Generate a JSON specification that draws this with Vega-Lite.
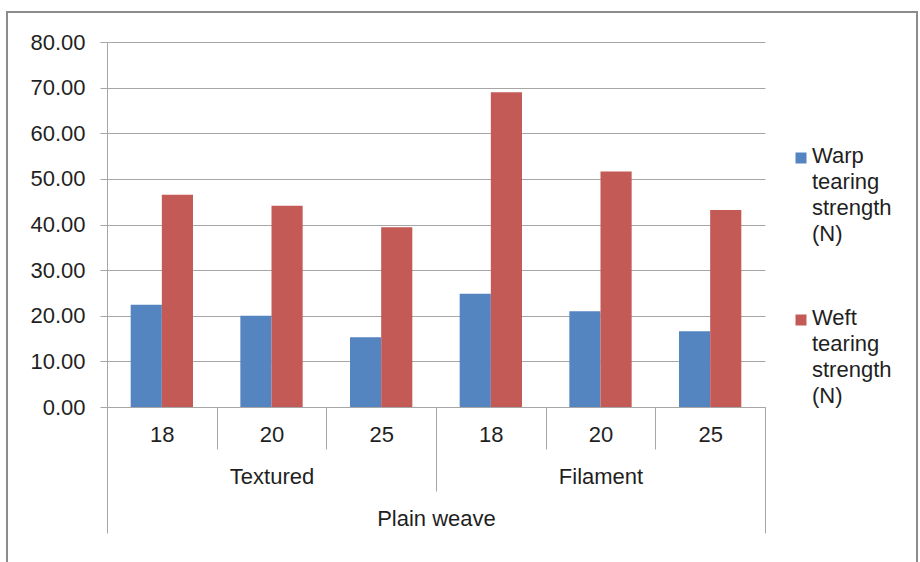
{
  "$schema": "https://vega.github.io/schema/vega-lite/v6.json",
  "autosize": {"type": "none"},
  "padding": {"left": 7, "top": 12, "right": 3, "bottom": -6},
  "width": 910,
  "height": 556,
  "background": "white",
  "config": {
    "view": {"stroke": "#8c8c8c", "strokeWidth": 2},
    "font": "Liberation Sans",
    "axis": {
      "labelFont": "Liberation Sans",
      "labelFontSize": 22,
      "labelColor": "#1f1f1f",
      "domainColor": "#a6a6a6",
      "tickColor": "#a6a6a6",
      "gridColor": "#a6a6a6",
      "domainWidth": 1,
      "tickWidth": 1,
      "gridWidth": 1
    },
    "style": {"guide-label": {"lineHeight": 26}}
  },
  "datasets": {
    "tearing": [
      {"weave": "Plain weave", "yarn": "Textured", "size": "18", "key": "Textured 18", "series": "Warp tearing strength (N)", "value": 22.4},
      {"weave": "Plain weave", "yarn": "Textured", "size": "18", "key": "Textured 18", "series": "Weft tearing strength (N)", "value": 46.5},
      {"weave": "Plain weave", "yarn": "Textured", "size": "20", "key": "Textured 20", "series": "Warp tearing strength (N)", "value": 20.0},
      {"weave": "Plain weave", "yarn": "Textured", "size": "20", "key": "Textured 20", "series": "Weft tearing strength (N)", "value": 44.1},
      {"weave": "Plain weave", "yarn": "Textured", "size": "25", "key": "Textured 25", "series": "Warp tearing strength (N)", "value": 15.3},
      {"weave": "Plain weave", "yarn": "Textured", "size": "25", "key": "Textured 25", "series": "Weft tearing strength (N)", "value": 39.4},
      {"weave": "Plain weave", "yarn": "Filament", "size": "18", "key": "Filament 18", "series": "Warp tearing strength (N)", "value": 24.8},
      {"weave": "Plain weave", "yarn": "Filament", "size": "18", "key": "Filament 18", "series": "Weft tearing strength (N)", "value": 69.0},
      {"weave": "Plain weave", "yarn": "Filament", "size": "20", "key": "Filament 20", "series": "Warp tearing strength (N)", "value": 21.0},
      {"weave": "Plain weave", "yarn": "Filament", "size": "20", "key": "Filament 20", "series": "Weft tearing strength (N)", "value": 51.6},
      {"weave": "Plain weave", "yarn": "Filament", "size": "25", "key": "Filament 25", "series": "Warp tearing strength (N)", "value": 16.6},
      {"weave": "Plain weave", "yarn": "Filament", "size": "25", "key": "Filament 25", "series": "Weft tearing strength (N)", "value": 43.2}
    ]
  },
  "data": {"name": "tearing"},
  "layer": [
    {
      "mark": {"type": "bar"},
      "encoding": {
        "x": {
          "field": "key",
          "type": "nominal",
          "sort": null,
          "scale": {"range": [100, 758], "paddingInner": 0, "paddingOuter": 0},
          "axis": {
            "orient": "bottom",
            "offset": -161,
            "title": null,
            "labelExpr": "split(datum.label, ' ')[1]",
            "labelAngle": 0,
            "tickBand": "extent",
            "tickSize": 42,
            "labelPadding": -15,
            "labelBaseline": "middle",
            "domain": true,
            "grid": false
          }
        },
        "xOffset": {
          "field": "series",
          "sort": null,
          "scale": {"paddingInner": 0, "paddingOuter": 0.76}
        },
        "y": {
          "field": "value",
          "type": "quantitative",
          "scale": {"domain": [0, 80], "range": [395, 30], "nice": false, "zero": true},
          "axis": {
            "title": null,
            "offset": -100,
            "values": [0, 10, 20, 30, 40, 50, 60, 70, 80],
            "format": ".2f",
            "tickSize": 7,
            "labelPadding": 15,
            "grid": true,
            "domain": true
          }
        },
        "color": {
          "field": "series",
          "type": "nominal",
          "scale": {
            "domain": ["Warp tearing strength (N)", "Weft tearing strength (N)"],
            "range": ["#5585c1", "#c45a56"]
          },
          "legend": {
            "title": null,
            "orient": "none",
            "legendX": 783,
            "legendY": 135,
            "padding": 0,
            "symbolType": "square",
            "symbolSize": 121,
            "symbolStrokeWidth": 0,
            "symbolOpacity": 1,
            "labelFont": "Liberation Sans",
            "labelFontSize": 22,
            "labelColor": "#1f1f1f",
            "labelExpr": "split(datum.label, ' ')",
            "labelBaseline": "top",
            "labelOffset": 0,
            "labelLimit": 300,
            "rowPadding": 62,
            "encode": {"labels": {"update": {"dy": {"value": -12}}}}
          }
        }
      }
    },
    {
      "mark": {"type": "tick", "opacity": 0},
      "encoding": {
        "x": {
          "field": "yarn",
          "type": "nominal",
          "scale": {"domain": ["Textured", "Filament"], "range": [100, 758], "paddingInner": 0, "paddingOuter": 0},
          "axis": {
            "orient": "bottom",
            "offset": -161,
            "title": null,
            "labelAngle": 0,
            "tickBand": "extent",
            "tickSize": 84,
            "labelPadding": -15,
            "labelBaseline": "middle",
            "domain": false,
            "grid": false
          }
        }
      }
    },
    {
      "mark": {"type": "tick", "opacity": 0},
      "encoding": {
        "x": {
          "field": "weave",
          "type": "nominal",
          "scale": {"domain": ["Plain weave"], "range": [100, 758], "paddingInner": 0, "paddingOuter": 0},
          "axis": {
            "orient": "bottom",
            "offset": -161,
            "title": null,
            "labelAngle": 0,
            "tickBand": "extent",
            "tickSize": 126,
            "labelPadding": -15,
            "labelBaseline": "middle",
            "domain": false,
            "grid": false
          }
        }
      }
    }
  ],
  "resolve": {"scale": {"x": "independent"}, "axis": {"x": "independent"}}
}
